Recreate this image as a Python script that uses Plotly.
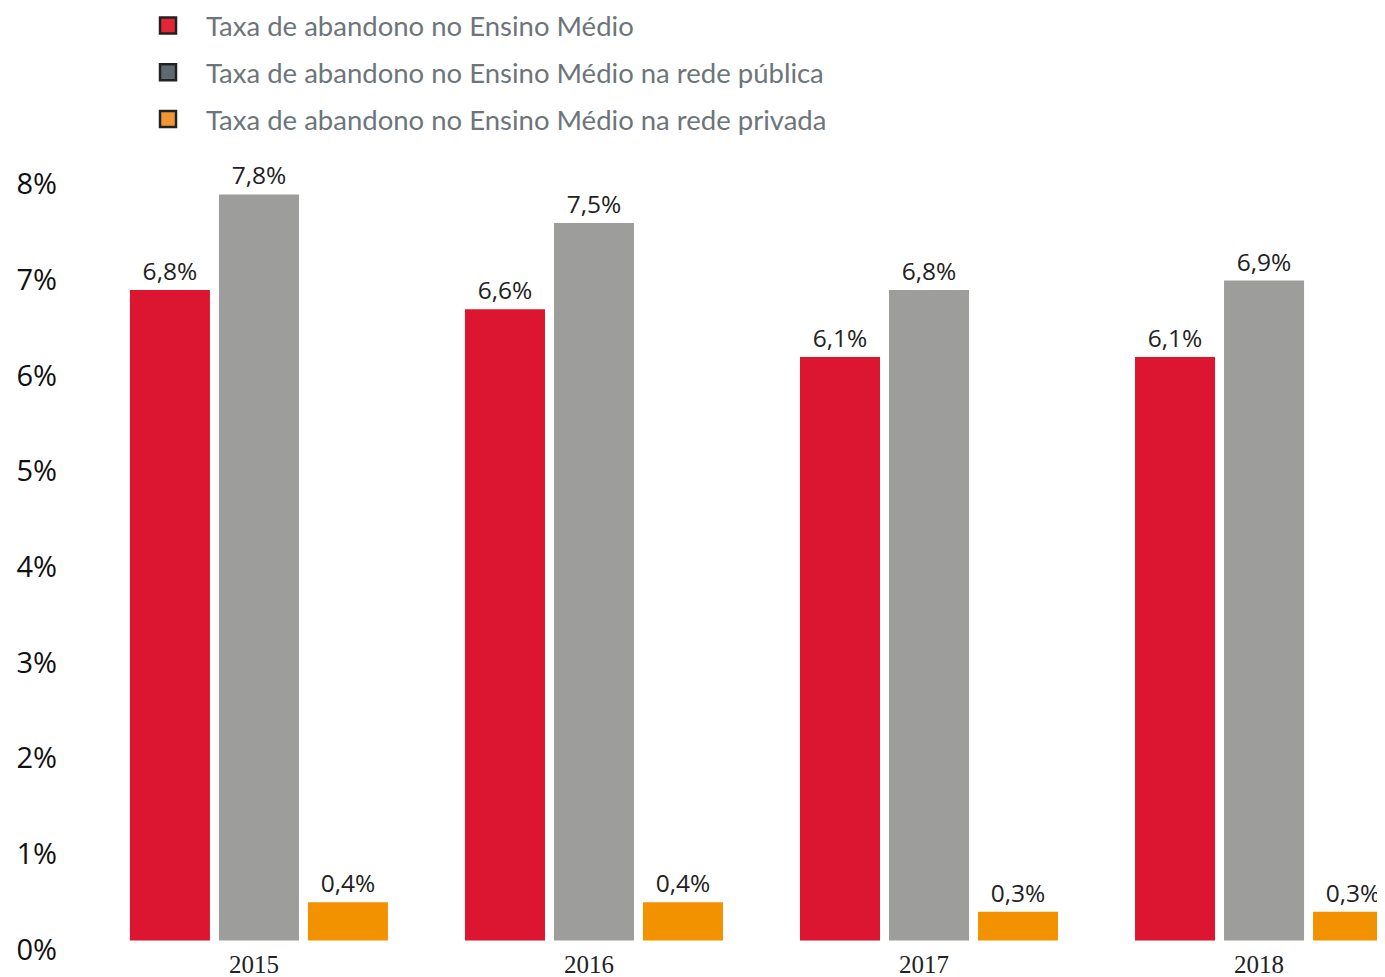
import plotly.graph_objects as go

years = ["2015", "2016", "2017", "2018"]
total = [6.8, 6.6, 6.1, 6.1]
publica = [7.8, 7.5, 6.8, 6.9]
privada = [0.4, 0.4, 0.3, 0.3]
names = [
    "Taxa de abandono no Ensino Médio",
    "Taxa de abandono no Ensino Médio na rede pública",
    "Taxa de abandono no Ensino Médio na rede privada",
]
bar_colors = ["#dc1530", "#9d9d9c", "#f39200"]
legend_colors = ["#e32636", "#5f6a70", "#f19637"]
y_ticks = [0, 1, 2, 3, 4, 5, 6, 7, 8]
y_ticktext = [f"{v}%" for v in y_ticks]


def fmt(v):
    return f"{v:.1f}".replace(".", ",") + "%"


fig = go.Figure()
for vals, col in zip([total, publica, privada], bar_colors):
    fig.add_trace(go.Bar(
        x=years, y=vals, marker=dict(color=col, line=dict(width=0)),
        text=[fmt(v) for v in vals], textposition="outside",
        textfont=dict(family="Open Sans", size=24.5, color="#222222"),
        cliponaxis=False, showlegend=False, hoverinfo="skip",
    ))

for i, (nm, col) in enumerate(zip(names, legend_colors)):
    fig.add_trace(go.Scatter(
        x=[None], y=[None], mode="markers", name=nm, legendgroup=f"g{i}",
        marker=dict(symbol="square", size=22, color=col, line=dict(width=2.5, color="#222222")),
    ))

# axis used only for tick labels, shifted slightly below the data grid
fig.add_trace(go.Scatter(x=[years[0]], y=[None], yaxis="y2", showlegend=False,
                         hoverinfo="skip", mode="markers", marker=dict(opacity=0)))

shift = 0.094
fig.update_layout(
    width=1377, height=969,
    margin=dict(l=67, r=0, t=152, b=27, autoexpand=False),
    paper_bgcolor="white", plot_bgcolor="white",
    barmode="group", bargap=0.203, bargroupgap=0.101,
    xaxis=dict(range=[-0.549, 3.361], showgrid=False, zeroline=False, showline=False,
               ticks="", tickfont=dict(family="Liberation Serif", size=25, color="#222222"),
               ticklabelstandoff=-3, ticklabelshift=-5),
    yaxis=dict(range=[-0.1, 8.16], showgrid=False, zeroline=False, showline=False,
               showticklabels=False, ticks=""),
    yaxis2=dict(range=[-0.1 + shift, 8.16 + shift], overlaying="y", side="left", anchor="x",
                showgrid=False, zeroline=False, showline=False, ticks="",
                tickvals=y_ticks, ticktext=y_ticktext,
                tickfont=dict(family="Open Sans", size=29, color="#111111"),
                ticklabelstandoff=17),
    legend=dict(x=0.042, y=1.201, xanchor="left", yanchor="top",
                font=dict(family="Lato", size=27.5, color="#6d757b"),
                itemwidth=66, tracegroupgap=8, bgcolor="rgba(0,0,0,0)"),
    showlegend=True,
)

fig.write_html("out.html")
